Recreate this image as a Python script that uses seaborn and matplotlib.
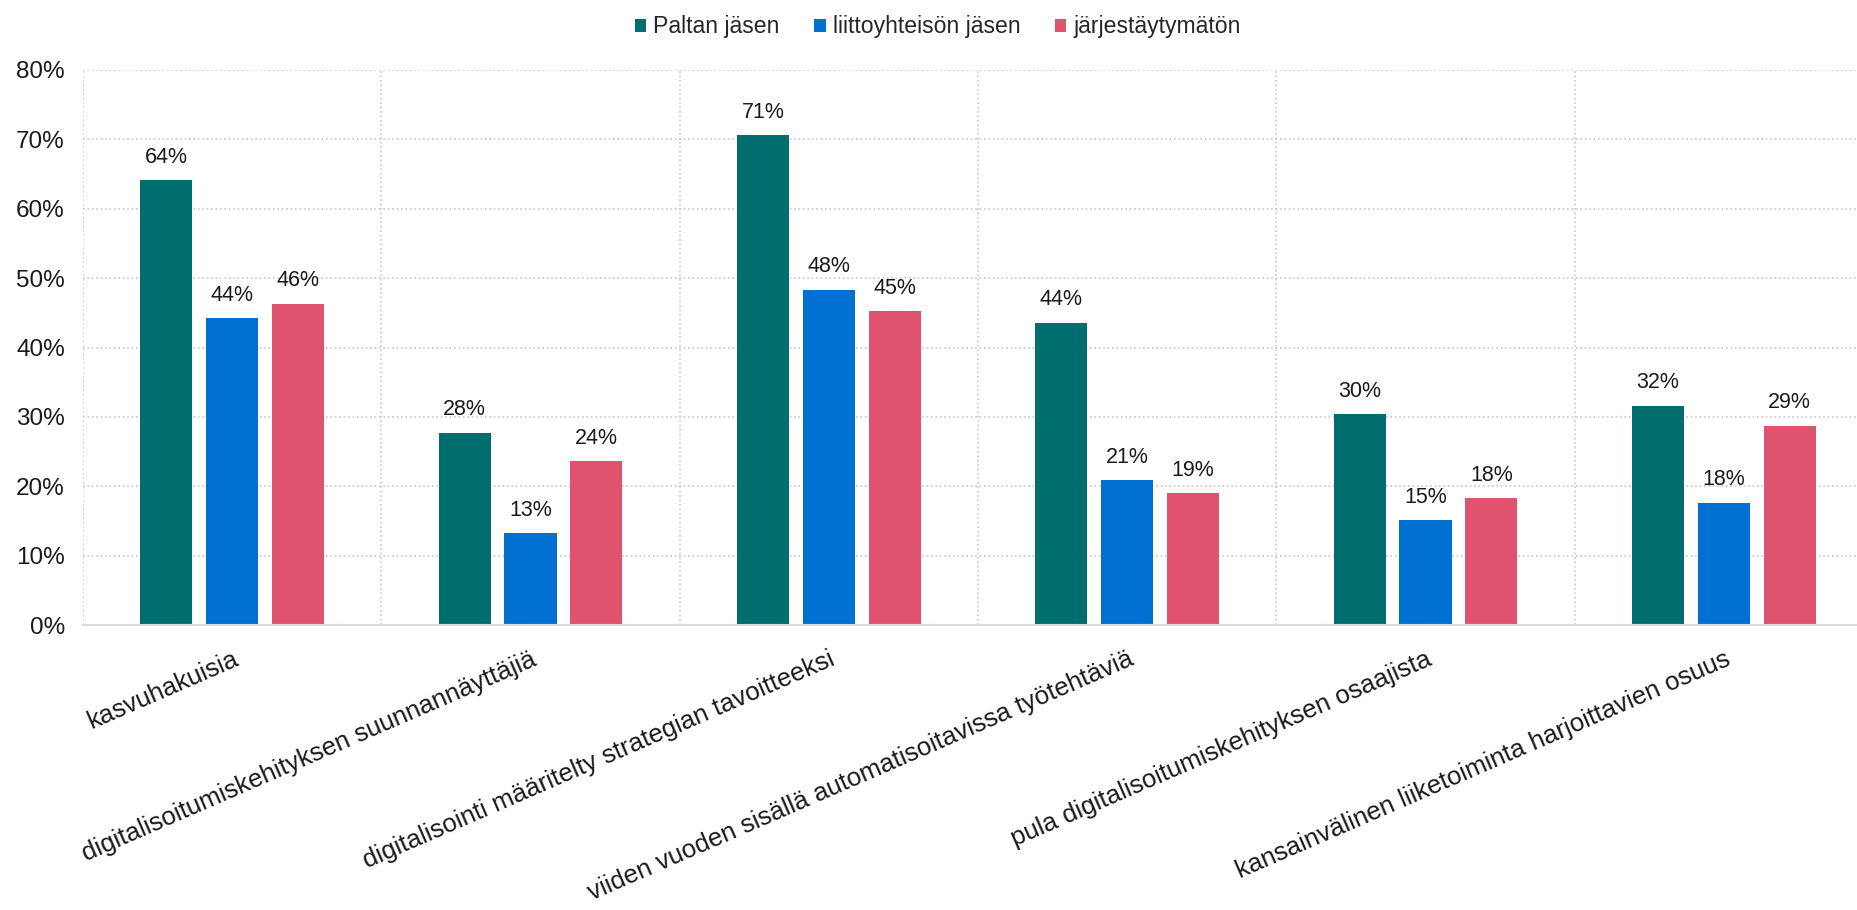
import pandas as pd
import matplotlib
matplotlib.use('Agg')
import matplotlib.pyplot as plt
from matplotlib.ticker import MultipleLocator, PercentFormatter
import seaborn as sns

# data
categories = [
    'kasvuhakuisia',
    'digitalisoitumiskehityksen suunnannäyttäjiä',
    'digitalisointi määritelty strategian tavoitteeksi',
    'viiden vuoden sisällä automatisoitavissa työtehtäviä',
    'pula digitalisoitumiskehityksen osaajista',
    'kansainvälinen liiketoiminta harjoittavien osuus',
]
series = ['Paltan jäsen', 'liittoyhteisön jäsen', 'järjestäytymätön']
paltan = [64.1, 27.7, 70.6, 43.6, 30.4, 31.6]
liitto = [44.2, 13.2, 48.3, 20.9, 15.1, 17.6]
jarj = [46.3, 23.6, 45.2, 19.0, 18.3, 28.7]
colors = ['#006E6E', '#0070D2', '#E0536E']

rows = []
for name, vals in zip(series, [paltan, liitto, jarj]):
    for cat, v in zip(categories, vals):
        rows.append({'kategoria': cat, 'ryhmä': name, 'osuus': v})
df = pd.DataFrame(rows)

sns.set_style('white')
plt.rcParams['font.family'] = ['Liberation Sans', 'DejaVu Sans']

fig = plt.figure(figsize=(18.57, 9.1), dpi=100)
# axes runs a little past the right edge, as in the reference
ax = fig.add_axes([83 / 1857, 1 - 625 / 910, 1790 / 1857, 555 / 910])

sns.barplot(data=df, x='kategoria', y='osuus', hue='ryhmä', order=categories,
            hue_order=series, palette=colors, saturation=1, width=0.663, gap=0.21,
            linewidth=0, ax=ax)

for cont in ax.containers:
    ax.bar_label(cont, fmt='%.0f%%', padding=9, fontsize=15.5, color='#1a1a1a')

ax.set_ylim(0, 80)
ax.set_xlim(-0.5, len(categories) - 0.5)
ax.yaxis.set_major_locator(MultipleLocator(10))
ax.yaxis.set_major_formatter(PercentFormatter(decimals=0))
ax.set_xticks(range(len(categories)))
ax.set_xticks([i + 0.5 for i in range(-1, len(categories))], minor=True)

ax.grid(axis='y', which='major', linestyle=':', color='#c8c8c8', linewidth=1.2)
ax.grid(axis='x', which='minor', linestyle=':', color='#c8c8c8', linewidth=1.2)
ax.grid(axis='x', which='major', visible=False)
ax.set_axisbelow(True)

for s in ['top', 'right', 'left']:
    ax.spines[s].set_visible(False)
ax.spines['bottom'].set_color('#d9d9d9')
ax.spines['bottom'].set_linewidth(1.5)

ax.tick_params(axis='y', length=0, pad=13, labelsize=17.5, labelcolor='#1a1a1a')
ax.tick_params(axis='x', which='both', length=0, pad=16, labelsize=18.6, labelcolor='#1a1a1a')
plt.setp(ax.get_xticklabels(), rotation=23.5, ha='right', va='top', rotation_mode='anchor')
ax.set_xlabel('')
ax.set_ylabel('')

handles, labels = ax.get_legend_handles_labels()
ax.get_legend().remove()
fig.legend(handles, labels, loc='upper center', bbox_to_anchor=(0.505, 1.006), ncol=3,
           frameon=False, fontsize=16.6, handlelength=0.5, handleheight=0.5,
           handletextpad=0.3, columnspacing=1.5)

fig.savefig('out.png', dpi=100)
